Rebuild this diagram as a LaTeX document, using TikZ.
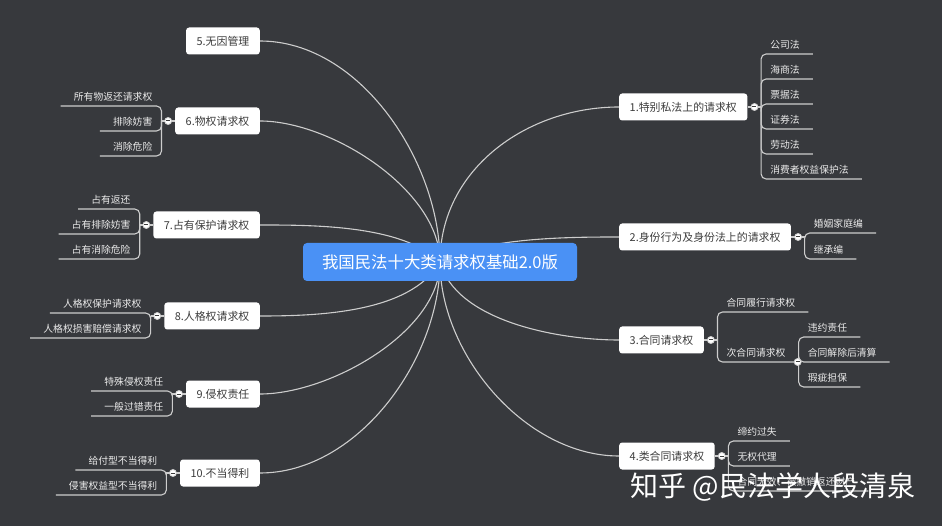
\documentclass[tikz,border=0pt]{standalone}
\usepackage{fontspec}
\setmainfont{Noto Sans CJK SC}
\usepackage{tikz}
\usetikzlibrary{positioning}

\definecolor{canvas}{RGB}{55,57,61}
\definecolor{rootblue}{RGB}{74,145,245}
\definecolor{wiregray}{RGB}{205,205,205}
\definecolor{ink}{RGB}{60,60,60}
\definecolor{leafink}{RGB}{235,235,235}

\pgfdeclarelayer{bg}
\pgfdeclarelayer{wires}
\pgfsetlayers{bg,wires,main}

\begin{document}
\begin{tikzpicture}[
		x=1pt, y=1pt,
		root/.style={
			shape=rectangle,
			rounded corners=4pt,
			fill=rootblue,
			text=white,
			font=\fontsize{16.4}{18}\selectfont,
			minimum width=274pt, minimum height=38pt, inner sep=0pt
		},
		topic/.style={
			shape=rectangle,
			rounded corners=3pt,
			fill=white,
			text=ink,
			font=\fontsize{10.9}{13}\selectfont,
			minimum height=27pt, inner xsep=10.5pt, inner ysep=0pt
		},
		leaf/.style={
			text=leafink,
			font=\fontsize{9.8}{12}\selectfont,
			inner xsep=9pt, inner ysep=2.5pt, text height=8pt, text depth=2.5pt
		},
		knob/.style={
			shape=circle, draw=wiregray, fill=white, line width=.8pt,
			minimum size=7pt, inner sep=0pt,
			path picture={\draw[ink, line width=1pt] ([xshift=-2pt]path picture bounding box.center) -- ([xshift=2pt]path picture bounding box.center);}
		},
		wire/.style={draw=wiregray, line width=1.1pt},
		spur/.style={wire, rounded corners=5pt, shorten >=-4pt},
		stamp/.style={text=white, font=\fontsize{28}{30}\selectfont, inner sep=0pt}
		]
		\begin{pgfonlayer}{bg}
			\fill[canvas] (0,0) rectangle (942,-526);
		\end{pgfonlayer}
		\useasboundingbox (0,0) rectangle (942,-526);

		% centre
		\node[root] (root) at (440,-262) {我国民法十大类请求权基础2.0版};

		% right topics
		\node[topic, anchor=west] (n1) at (619,-107) {1.特别私法上的请求权};
		\node[topic, anchor=west] (n2) at (619,-237) {2.身份行为及身份法上的请求权};
		\node[topic, anchor=west] (n3) at (619,-340) {3.合同请求权};
		\node[topic, anchor=west] (n4) at (619,-456) {4.类合同请求权};

		% left topics
		\node[topic, anchor=east] (n5) at (260,-41) {5.无因管理};
		\node[topic, anchor=east] (n6) at (260,-121) {6.物权请求权};
		\node[topic, anchor=east] (n7) at (260,-225) {7.占有保护请求权};
		\node[topic, anchor=east] (n8) at (260,-316) {8.人格权请求权};
		\node[topic, anchor=east] (n9) at (260,-394) {9.侵权责任};
		\node[topic, anchor=east] (n10) at (260,-473) {10.不当得利};

		\begin{pgfonlayer}{wires}
			\draw[wire] (root.center) to[out=90, in=180, looseness=1] (n1.west);
			\draw[wire] (root.center) to[out=30, in=180, looseness=.7] (n2.west);
			\draw[wire] (root.center) to[out=-75, in=180, looseness=.8] (n3.west);
			\draw[wire] (root.center) to[out=-90, in=180, looseness=.9] (n4.west);
			\draw[wire] (root.center) to[out=90, in=0, looseness=.9] (n5.east);
			\draw[wire] (root.center) to[out=90, in=0, looseness=.8] (n6.east);
			\draw[wire] (root.center) to[out=135, in=0, looseness=.73] (n7.east);
			\draw[wire] (root.center) to[out=-120, in=0, looseness=.8] (n8.east);
			\draw[wire] (root.center) to[out=-90, in=0, looseness=.8] (n9.east);
			\draw[wire] (root.center) to[out=-90, in=0, looseness=.9] (n10.east);
		\end{pgfonlayer}

		% 1
		\node[knob, right=3pt of n1] (k1) {};
		\coordinate[right=13.5pt of n1] (b1);
		\node[leaf, anchor=south west] (l11) at (b1 |- 0,-54) {公司法};
		\node[leaf, anchor=south west] (l12) at (b1 |- 0,-79) {海商法};
		\node[leaf, anchor=south west] (l13) at (b1 |- 0,-104) {票据法};
		\node[leaf, anchor=south west] (l14) at (b1 |- 0,-129) {证券法};
		\node[leaf, anchor=south west] (l15) at (b1 |- 0,-154) {劳动法};
		\node[leaf, anchor=south west] (l16) at (b1 |- 0,-179) {消费者权益保护法};

		% 2
		\node[knob, right=3pt of n2] (k2) {};
		\coordinate[right=13.5pt of n2] (b2);
		\node[leaf, anchor=south west] (l21) at (b2 |- 0,-233) {婚姻家庭编};
		\node[leaf, anchor=south west] (l22) at (b2 |- 0,-259) {继承编};

		% 3
		\node[knob, right=3pt of n3] (k3) {};
		\coordinate[right=13.5pt of n3] (b3);
		\node[leaf, anchor=south west] (l31) at (b3 |- 0,-312) {合同履行请求权};
		\node[leaf, anchor=south west] (l32) at (b3 |- 0,-362) {次合同请求权};
		\node[knob] (k32) at ([xshift=3pt]l32.south east) {};
		\coordinate (b32) at ([xshift=4pt]l32.south east);
		\node[leaf, anchor=south west] (l321) at (b32 |- 0,-337) {违约责任};
		\node[leaf, anchor=south west] (l322) at (b32 |- 0,-362) {合同解除后清算};
		\node[leaf, anchor=south west] (l323) at (b32 |- 0,-387) {瑕疵担保};

		% 4
		\node[knob, right=3pt of n4] (k4) {};
		\coordinate[right=13.5pt of n4] (b4);
		\node[leaf, anchor=south west] (l41) at (b4 |- 0,-441) {缔约过失};
		\node[leaf, anchor=south west] (l42) at (b4 |- 0,-466) {无权代理};
		\node[leaf, anchor=south west] (l43) at (b4 |- 0,-491) {合同无效、被撤销返还财产};

		% 6
		\node[knob, left=3pt of n6] (k6) {};
		\coordinate[left=13.5pt of n6] (b6);
		\node[leaf, anchor=south east] (l61) at (b6 |- 0,-106) {所有物返还请求权};
		\node[leaf, anchor=south east] (l62) at (b6 |- 0,-131) {排除妨害};
		\node[leaf, anchor=south east] (l63) at (b6 |- 0,-156) {消除危险};

		% 7
		\node[knob, left=3pt of n7] (k7) {};
		\coordinate[left=13.5pt of n7] (b7);
		\node[leaf, anchor=south east] (l71) at (b7 |- 0,-209) {占有返还};
		\node[leaf, anchor=south east] (l72) at (b7 |- 0,-234) {占有排除妨害};
		\node[leaf, anchor=south east] (l73) at (b7 |- 0,-259) {占有消除危险};

		% 8
		\node[knob, left=3pt of n8] (k8) {};
		\coordinate[left=13.5pt of n8] (b8);
		\node[leaf, anchor=south east] (l81) at (b8 |- 0,-313) {人格权保护请求权};
		\node[leaf, anchor=south east] (l82) at (b8 |- 0,-338) {人格权损害赔偿请求权};

		% 9
		\node[knob, left=3pt of n9] (k9) {};
		\coordinate[left=13.5pt of n9] (b9);
		\node[leaf, anchor=south east] (l91) at (b9 |- 0,-391) {特殊侵权责任};
		\node[leaf, anchor=south east] (l92) at (b9 |- 0,-416) {一般过错责任};

		% 10
		\node[knob, left=3pt of n10] (k10) {};
		\coordinate[left=13.5pt of n10] (b10);
		\node[leaf, anchor=south east] (l101) at (b10 |- 0,-470) {给付型不当得利};
		\node[leaf, anchor=south east] (l102) at (b10 |- 0,-495) {侵害权益型不当得利};

		\begin{pgfonlayer}{wires}
			\draw[wire] (n1.east) -- (b1);
			\draw[spur] (b1) |- (l11.south east);
			\draw[spur] (b1) |- (l12.south east);
			\draw[spur] (b1) |- (l13.south east);
			\draw[spur] (b1) |- (l14.south east);
			\draw[spur] (b1) |- (l15.south east);
			\draw[spur] (b1) |- (l16.south east);
			\draw[wire] (n2.east) -- (b2);
			\draw[spur] (b2) |- (l21.south east);
			\draw[spur] (b2) |- (l22.south east);
			\draw[wire] (n3.east) -- (b3);
			\draw[spur] (b3) |- (l31.south east);
			\draw[spur] (b3) |- (l32.south east);
			\draw[spur] (b32) |- (l321.south east);
			\draw[spur] (b32) |- (l322.south east);
			\draw[spur] (b32) |- (l323.south east);
			\draw[wire] (n4.east) -- (b4);
			\draw[spur] (b4) |- (l41.south east);
			\draw[spur] (b4) |- (l42.south east);
			\draw[spur] (b4) |- (l43.south east);
			\draw[wire] (n6.west) -- (b6);
			\draw[spur] (b6) |- (l61.south west);
			\draw[spur] (b6) |- (l62.south west);
			\draw[spur] (b6) |- (l63.south west);
			\draw[wire] (n7.west) -- (b7);
			\draw[spur] (b7) |- (l71.south west);
			\draw[spur] (b7) |- (l72.south west);
			\draw[spur] (b7) |- (l73.south west);
			\draw[wire] (n8.west) -- (b8);
			\draw[spur] (b8) |- (l81.south west);
			\draw[spur] (b8) |- (l82.south west);
			\draw[wire] (n9.west) -- (b9);
			\draw[spur] (b9) |- (l91.south west);
			\draw[spur] (b9) |- (l92.south west);
			\draw[wire] (n10.west) -- (b10);
			\draw[spur] (b10) |- (l101.south west);
			\draw[spur] (b10) |- (l102.south west);
		\end{pgfonlayer}

		% watermark
		\node[stamp] (sign) at (773,-487) {知乎 @民法学人段清泉};
	\end{tikzpicture}
\end{document}
